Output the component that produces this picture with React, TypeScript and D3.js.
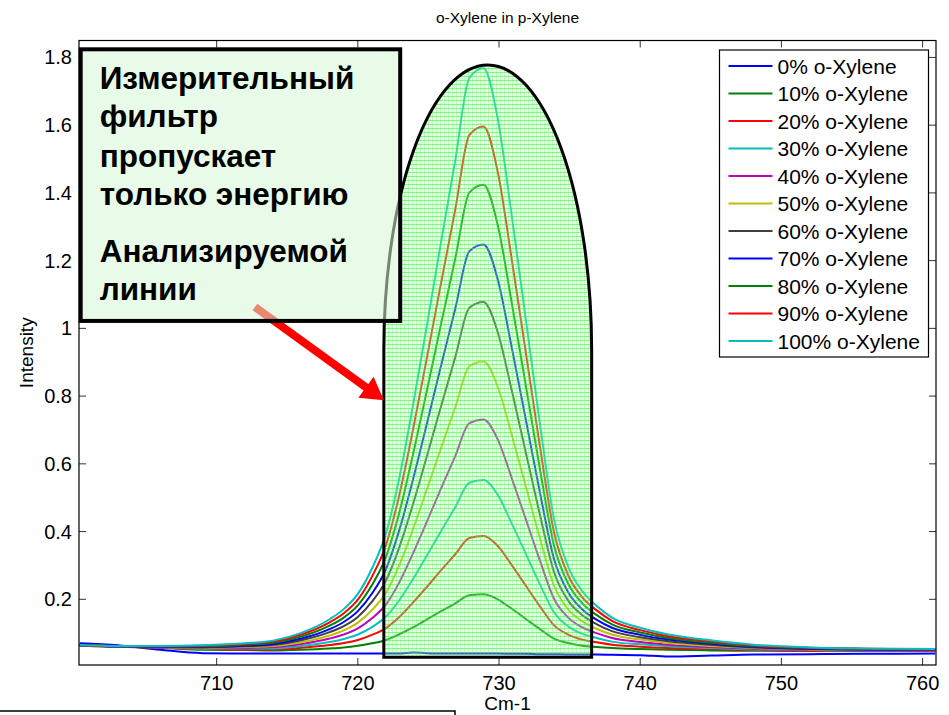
import * as d3 from "d3";

// wavenumber samples (Cm-1)
const wavenumbers = [700.3, 703, 706, 709, 712, 714, 716, 718, 719, 720, 721, 722, 722.9, 723.9, 724.9, 725.9, 726.9, 727.9, 728.9, 729.9, 730.9, 731.9, 732.9, 733.9, 734.9, 735.9, 736.9, 738, 740, 742, 745, 748, 752, 756, 760.9];

const pct0 = [0.070, 0.064, 0.051, 0.041, 0.040, 0.040, 0.040, 0.040, 0.040, 0.040, 0.040, 0.040, 0.040, 0.043, 0.041, 0.040, 0.040, 0.040, 0.040, 0.040, 0.039, 0.039, 0.038, 0.038, 0.037, 0.037, 0.037, 0.036, 0.035, 0.031, 0.034, 0.037, 0.038, 0.039, 0.040];
const pct10 = [0.063, 0.060, 0.057, 0.051, 0.050, 0.049, 0.051, 0.055, 0.058, 0.063, 0.070, 0.080, 0.096, 0.117, 0.141, 0.165, 0.188, 0.212, 0.215, 0.200, 0.172, 0.142, 0.112, 0.084, 0.071, 0.063, 0.059, 0.056, 0.053, 0.051, 0.049, 0.048, 0.047, 0.047, 0.048];
const pct20 = [0.063, 0.060, 0.057, 0.053, 0.052, 0.052, 0.057, 0.065, 0.071, 0.080, 0.095, 0.115, 0.146, 0.190, 0.237, 0.286, 0.333, 0.381, 0.387, 0.358, 0.301, 0.240, 0.179, 0.123, 0.096, 0.081, 0.073, 0.066, 0.060, 0.056, 0.053, 0.050, 0.048, 0.048, 0.048];
const pct30 = [0.064, 0.061, 0.058, 0.054, 0.055, 0.055, 0.062, 0.074, 0.083, 0.096, 0.118, 0.149, 0.195, 0.259, 0.330, 0.402, 0.472, 0.544, 0.552, 0.509, 0.424, 0.334, 0.244, 0.161, 0.120, 0.098, 0.086, 0.075, 0.067, 0.061, 0.056, 0.052, 0.050, 0.048, 0.049];
const pct40 = [0.064, 0.061, 0.058, 0.056, 0.057, 0.059, 0.068, 0.084, 0.096, 0.114, 0.144, 0.185, 0.247, 0.335, 0.430, 0.528, 0.623, 0.720, 0.731, 0.673, 0.558, 0.436, 0.314, 0.201, 0.146, 0.117, 0.100, 0.086, 0.074, 0.066, 0.059, 0.054, 0.051, 0.049, 0.049];
const pct50 = [0.064, 0.061, 0.059, 0.057, 0.059, 0.062, 0.073, 0.093, 0.108, 0.131, 0.168, 0.220, 0.297, 0.406, 0.526, 0.647, 0.767, 0.888, 0.902, 0.829, 0.686, 0.533, 0.380, 0.240, 0.170, 0.135, 0.113, 0.096, 0.081, 0.071, 0.062, 0.056, 0.052, 0.050, 0.050];
const pct60 = [0.064, 0.061, 0.060, 0.058, 0.061, 0.065, 0.079, 0.103, 0.121, 0.148, 0.193, 0.256, 0.349, 0.480, 0.624, 0.771, 0.915, 1.061, 1.078, 0.990, 0.817, 0.633, 0.449, 0.280, 0.196, 0.153, 0.127, 0.106, 0.088, 0.076, 0.066, 0.058, 0.053, 0.051, 0.051];
const pct70 = [0.064, 0.061, 0.060, 0.060, 0.063, 0.068, 0.084, 0.112, 0.133, 0.165, 0.217, 0.290, 0.399, 0.552, 0.720, 0.891, 1.058, 1.228, 1.248, 1.146, 0.944, 0.730, 0.515, 0.318, 0.221, 0.170, 0.140, 0.116, 0.095, 0.081, 0.069, 0.060, 0.054, 0.052, 0.051];
const pct80 = [0.065, 0.062, 0.061, 0.061, 0.066, 0.072, 0.090, 0.122, 0.146, 0.182, 0.242, 0.326, 0.450, 0.626, 0.818, 1.014, 1.206, 1.401, 1.424, 1.307, 1.076, 0.830, 0.584, 0.358, 0.246, 0.188, 0.154, 0.126, 0.102, 0.086, 0.072, 0.062, 0.056, 0.053, 0.052];
const pct90 = [0.065, 0.062, 0.061, 0.063, 0.068, 0.075, 0.096, 0.132, 0.159, 0.199, 0.267, 0.361, 0.501, 0.699, 0.915, 1.135, 1.351, 1.571, 1.596, 1.464, 1.204, 0.928, 0.651, 0.397, 0.271, 0.206, 0.168, 0.136, 0.109, 0.091, 0.076, 0.064, 0.057, 0.054, 0.052];
const pct100 = [0.065, 0.062, 0.062, 0.064, 0.070, 0.078, 0.101, 0.141, 0.171, 0.216, 0.291, 0.396, 0.551, 0.771, 1.011, 1.256, 1.496, 1.740, 1.768, 1.622, 1.333, 1.026, 0.718, 0.436, 0.296, 0.224, 0.181, 0.146, 0.116, 0.096, 0.079, 0.066, 0.058, 0.055, 0.053];

const seriesValues = [pct0, pct10, pct20, pct30, pct40, pct50, pct60, pct70, pct80, pct90, pct100];
const seriesNames = ["0% o-Xylene", "10% o-Xylene", "20% o-Xylene", "30% o-Xylene", "40% o-Xylene", "50% o-Xylene", "60% o-Xylene", "70% o-Xylene", "80% o-Xylene", "90% o-Xylene", "100% o-Xylene"];
const seriesColors = ["#0000ff", "#008000", "#ff0000", "#00bfbf", "#bf00bf", "#bfbf00", "#404040", "#0000ff", "#008000", "#ff0000", "#00bfbf"];

const xTicks = [710, 720, 730, 740, 750, 760];
const yTicks = [0.2, 0.4, 0.6, 0.8, 1, 1.2, 1.4, 1.6, 1.8];

// filter pass band drawn over the peak, in data units
const bandLeft = 721.84;
const bandRight = 736.56;
const bandBottom = 0.029;
const bandShoulder = 0.936;
const bandTop = 1.778;

// note box and arrow, in data units
const noteBox = { x0: 700.37, x1: 723.0, y0: 1.824, y1: 1.022 };
const noteLines = ["Измерительный", "фильтр", "пропускает", "только энергию", "Анализируемой", "линии"];
const arrowFrom = [712.71, 1.063];
const arrowTo = [721.84, 0.788];

const W = 949;
const H = 715;
const FONT = "'Liberation Sans', Arial, sans-serif";

export default function App() {
  const m = { left: 79, right: 936, top: 40.5, bottom: 665 };
  const x = d3.scaleLinear().domain([700.25, 760.95]).range([m.left, m.right]);
  const y = d3.scaleLinear().domain([0.006, 1.85]).range([m.bottom, m.top]);

  const line = d3
    .line<number>()
    .x((_, i) => x(wavenumbers[i]))
    .y((d) => y(d))
    .curve(d3.curveMonotoneX);

  const eL = x(bandLeft);
  const eR = x(bandRight);
  const eB = y(bandBottom);
  const eC = y(bandShoulder);
  const rx = (eR - eL) / 2;
  const ry = eC - y(bandTop);
  const bandPath = `M${eL},${eB} L${eL},${eC} A${rx},${ry} 0 0 1 ${eR},${eC} L${eR},${eB} Z`;

  const bx0 = x(noteBox.x0);
  const bx1 = x(noteBox.x1);
  const by0 = y(noteBox.y0);
  const by1 = y(noteBox.y1);

  // arrow geometry
  const ax0 = x(arrowFrom[0]);
  const ay0 = y(arrowFrom[1]);
  const ax1 = x(arrowTo[0]);
  const ay1 = y(arrowTo[1]);
  const len = Math.hypot(ax1 - ax0, ay1 - ay0);
  const ux = (ax1 - ax0) / len;
  const uy = (ay1 - ay0) / len;
  const headLen = 22;
  const headHalf = 13;
  const hbx = ax1 - ux * headLen;
  const hby = ay1 - uy * headLen;
  const head = [
    [ax1, ay1],
    [hbx - uy * headHalf, hby + ux * headHalf],
    [hbx + uy * headHalf, hby - ux * headHalf],
  ];

  const textOffsets = [40, 78, 117.4, 155.7, 212.7, 250.7];

  const legX = 719.5;
  const legY = 50;
  const legW = 209;
  const legH = 307;
  const rowH = 27.5;

  const fmt = (t: number) => String(+t.toFixed(1));

  return (
    <svg
      width={W}
      height={H}
      style={{ position: "absolute", left: 0, top: 0, background: "#fff" }}
      fontFamily={FONT}
    >
      <defs>
        <clipPath id="plot">
          <rect x={m.left} y={m.top} width={m.right - m.left} height={m.bottom - m.top} />
        </clipPath>
        <pattern id="hatch" width="4" height="4" patternUnits="userSpaceOnUse">
          <rect width="4" height="4" fill="#b4f8b4" fillOpacity="0.35" />
          <rect y="0" width="4" height="1" fill="#10f010" fillOpacity="0.45" />
          <rect x="0" width="1" height="4" fill="#30f030" fillOpacity="0.22" />
        </pattern>
      </defs>

      <rect width={W} height={H} fill="#fff" />

      <text x={(m.left + m.right) / 2} y={23} textAnchor="middle" fontSize={15.5} fill="#000">
        o-Xylene in p-Xylene
      </text>

      {/* ticks */}
      {xTicks.map((t) => (
        <g key={`xt${t}`}>
          <line x1={x(t)} x2={x(t)} y1={m.bottom} y2={m.bottom - 7} stroke="#333" />
          <line x1={x(t)} x2={x(t)} y1={m.top} y2={m.top + 7} stroke="#333" />
          <text x={x(t)} y={m.bottom + 25} textAnchor="middle" fontSize={20}>
            {t}
          </text>
        </g>
      ))}
      {yTicks.map((t) => (
        <g key={`yt${t}`}>
          <line x1={m.left} x2={m.left + 7} y1={y(t)} y2={y(t)} stroke="#333" />
          <line x1={m.right} x2={m.right - 7} y1={y(t)} y2={y(t)} stroke="#333" />
          <text x={m.left - 7} y={y(t) + 7} textAnchor="end" fontSize={20}>
            {fmt(t)}
          </text>
        </g>
      ))}

      <text x={(m.left + m.right) / 2} y={710} textAnchor="middle" fontSize={19}>
        Cm-1
      </text>
      <text
        transform={`translate(33,${(m.top + m.bottom) / 2}) rotate(-90)`}
        textAnchor="middle"
        fontSize={19}
      >
        Intensity
      </text>

      {/* spectra */}
      <g clipPath="url(#plot)">
        {seriesValues.map((vals, i) => (
          <path key={seriesNames[i]} d={line(vals) ?? ""} fill="none" stroke={seriesColors[i]} strokeWidth={2} />
        ))}
      </g>

      {/* filter band */}
      <path d={bandPath} fill="url(#hatch)" />
      <rect x={bx0} y={by0} width={bx1 - bx0} height={by1 - by0} fill="#fff" />
      <path d={bandPath} fill="none" stroke="#000" strokeWidth={3} />

      {/* arrow */}
      <line
        x1={ax0}
        y1={ay0}
        x2={hbx + ux * 2}
        y2={hby + uy * 2}
        stroke="#ff0000"
        strokeWidth={8}
      />
      <polygon points={head.map((p) => p.join(",")).join(" ")} fill="#ff0000" />

      {/* note box */}
      <rect
        x={bx0}
        y={by0}
        width={bx1 - bx0}
        height={by1 - by0}
        fill="#d6f7d6"
        fillOpacity={0.55}
        stroke="#000"
        strokeWidth={4}
      />
      {noteLines.map((t, i) => (
        <text key={t} x={bx0 + 19} y={by0 + textOffsets[i]} fontSize={31.5} fontWeight="bold" fill="#000">
          {t}
        </text>
      ))}

      {/* frame */}
      <rect
        x={m.left}
        y={m.top}
        width={m.right - m.left}
        height={m.bottom - m.top}
        fill="none"
        stroke="#000"
        strokeWidth={1.2}
      />

      {/* legend */}
      <rect x={legX} y={legY} width={legW} height={legH} fill="#fff" stroke="#000" strokeWidth={1.2} />
      {seriesNames.map((name, i) => {
        const cy = legY + 16 + i * rowH;
        return (
          <g key={`lg${name}`}>
            <line x1={legX + 9} x2={legX + 53} y1={cy} y2={cy} stroke={seriesColors[i]} strokeWidth={2} />
            <text x={legX + 58} y={cy + 7.5} fontSize={21}>
              {name}
            </text>
          </g>
        );
      })}

      {/* partial box below the chart */}
      <rect x={-2} y={711} width={457} height={20} fill="none" stroke="#000" strokeWidth={1.5} />
    </svg>
  );
}
